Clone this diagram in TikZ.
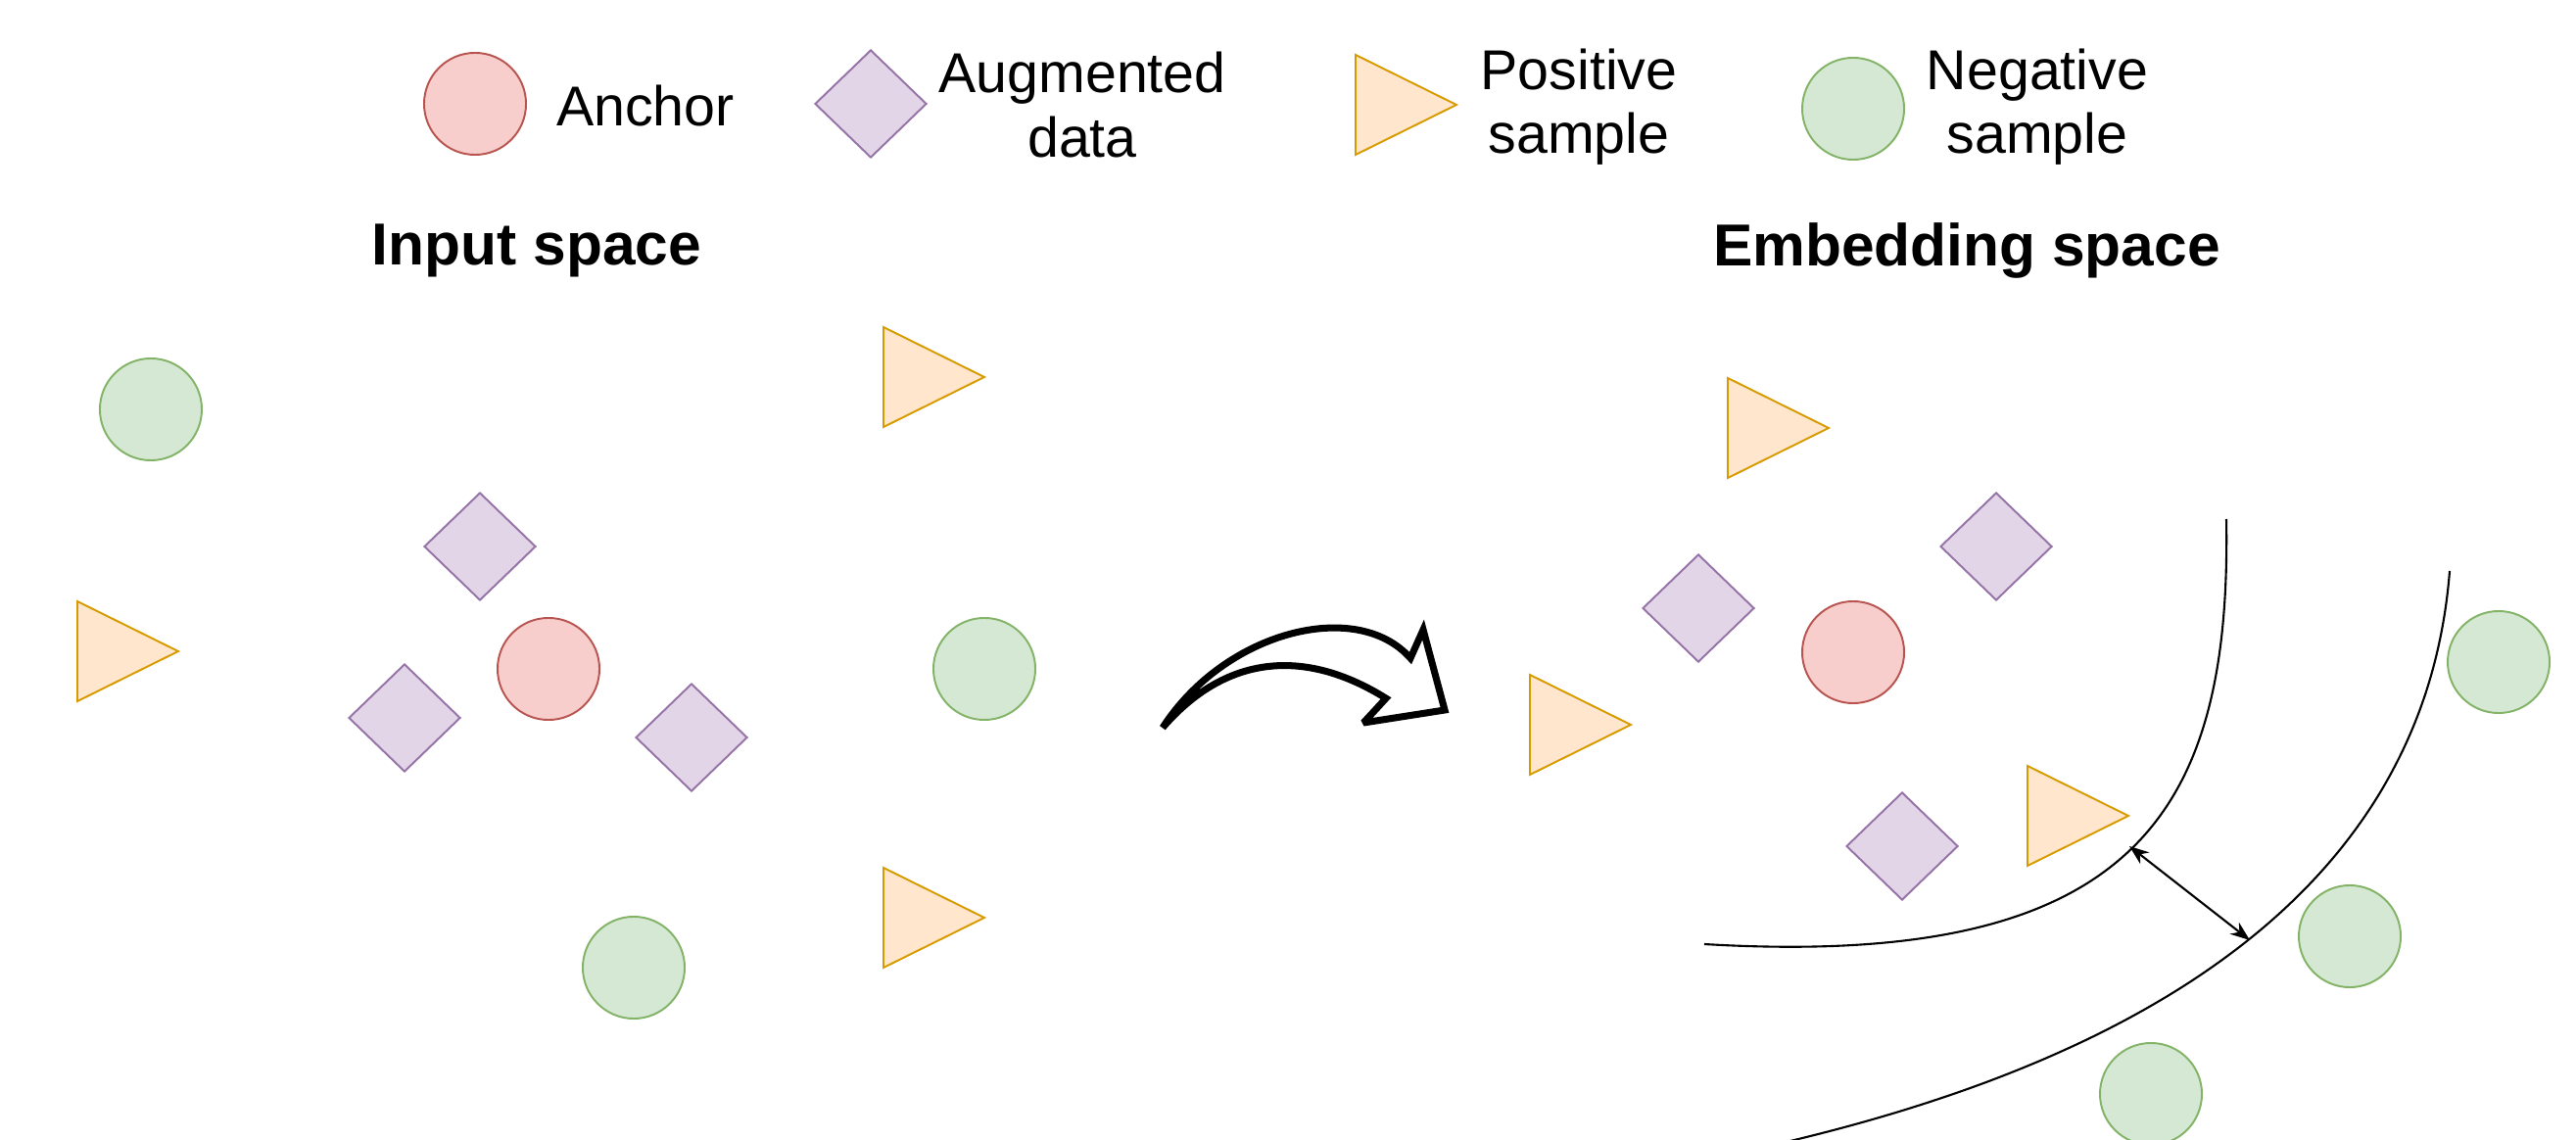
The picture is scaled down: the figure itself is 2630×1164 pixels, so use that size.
\documentclass[tikz,border=0pt]{standalone}
\usepackage{fontspec}
\setmainfont{Liberation Sans}
\usetikzlibrary{shapes.geometric,arrows.meta}
\definecolor{redF}{HTML}{F8CECC}
\definecolor{redD}{HTML}{B85450}
\definecolor{purpF}{HTML}{E1D5E7}
\definecolor{purpD}{HTML}{9673A6}
\definecolor{oranF}{HTML}{FFE6CC}
\definecolor{oranD}{HTML}{D79B00}
\definecolor{grnF}{HTML}{D5E8D4}
\definecolor{grnD}{HTML}{82B366}
\tikzset{
  negc/.style={circle, draw=grnD, fill=grnF, line width=0.55pt, minimum size=1.04cm, inner sep=0pt},
  ancc/.style={circle, draw=redD, fill=redF, line width=0.55pt, minimum size=1.04cm, inner sep=0pt},
  augd/.style={diamond, draw=purpD, fill=purpF, line width=0.55pt, minimum width=1.14cm, minimum height=1.10cm, inner sep=0pt},
  lbl/.style={font=\fontsize{16.3}{18.5}\selectfont, align=center, inner sep=0pt},
  ttl/.style={font=\fontsize{17.2}{20}\selectfont\bfseries, inner sep=0pt},
  arcline/.style={draw=black, line width=0.6pt},
  postri/.pic={\draw[draw=oranD, fill=oranF, line width=0.55pt, line join=miter] (0,-51) -- (103,0) -- (0,51) -- cycle;}
}
\begin{document}
\begin{tikzpicture}[x=0.01cm, y=-0.01cm]
\useasboundingbox (0,0) rectangle (2630,1164);
\clip (0,0) rectangle (2630,1164);

% legend
\node[ancc] (lanc) at (485,106) {};
\node[lbl] (lanct) at (659,108) {Anchor};
\node[augd] (laug) at (889,106) {};
\node[lbl] (laugt) at (1105,107) {Augmented\\data};
\pic at (1384,107) {postri};
\node[lbl] (lpost) at (1612,109) {Positive\\sample};
\node[negc] (lneg) at (1892,111) {};
\node[lbl] (lnegt) at (2080,109) {Negative\\sample};

% titles
\node[ttl] (tin) at (548,256) {Input space};
\node[ttl] (temb) at (2008,256) {Embedding space};

% input space
\node[negc] (in1) at (154,418) {};
\node[ancc] (ia) at (560,683) {};
\node[negc] (in2) at (1005,683) {};
\node[negc] (in3) at (647,988) {};
\node[augd] (id1) at (490,558) {};
\node[augd] (id2) at (413,733) {};
\node[augd] (id3) at (706,753) {};
\pic at (79,665) {postri};
\pic at (902,385) {postri};
\pic at (902,937) {postri};

% curved block arrow
\draw[line width=2pt, line join=miter, miter limit=3, fill=white]
  (1187,743) .. controls (1250,645) and (1385,610) .. (1440,672)
  -- (1453,643) -- (1475,725) -- (1392,738) -- (1415,713)
  .. controls (1330,660) and (1250,670) .. (1187,743) -- cycle;

% embedding space
\draw[arcline] (2273,530) .. controls (2278,830) and (2180,990) .. (1740,964);
\draw[arcline] (2501,583) .. controls (2480,850) and (2280,1060) .. (1815,1168);
\node[ancc] (ea) at (1892,666) {};
\node[negc] (en1) at (2551,676) {};
\node[negc] (en2) at (2399,956) {};
\node[negc] (en3) at (2196,1117) {};
\node[augd] (ed1) at (2038,558) {};
\node[augd] (ed2) at (1734,621) {};
\node[augd] (ed3) at (1942,864) {};
\pic at (1764,437) {postri};
\pic at (1562,740) {postri};
\pic at (2070,833) {postri};

\coordinate (m1) at (2174,864);
\coordinate (m2) at (2297,960);
\draw[line width=0.6pt, {Stealth[length=0.2cm,width=0.15cm]}-{Stealth[length=0.2cm,width=0.15cm]}] (m1) -- (m2);
\end{tikzpicture}
\end{document}
